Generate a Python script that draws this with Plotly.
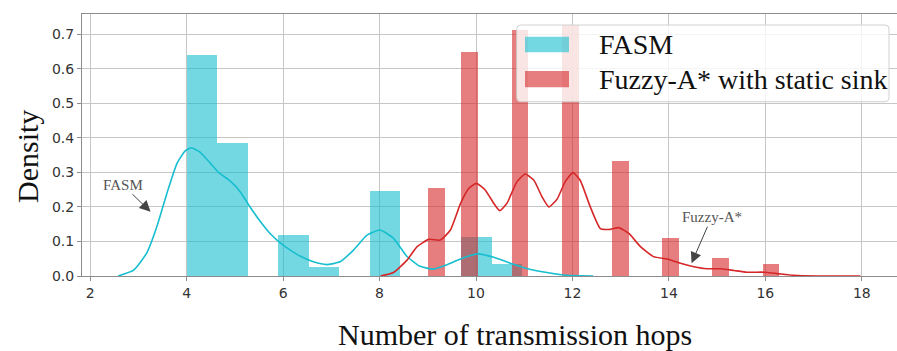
import plotly.graph_objects as go

# ---------------- data ----------------
# FASM histogram (density per bin), bins start at 4.0, width 0.633
fasm_bin_start = 4.0
fasm_bin_width = 0.633
fasm_density = [0.639, 0.386, 0.0, 0.119, 0.027, 0.0, 0.246, 0.0, 0.0, 0.112, 0.035]

# Fuzzy-A* histogram, bins start at 9.005, width 0.347
fuzzy_bin_start = 9.005
fuzzy_bin_width = 0.347
fuzzy_density = [0.254, 0.0, 0.649, 0.0, 0.0, 0.712, 0.0, 0.0, 0.726, 0.0, 0.0,
                 0.333, 0.0, 0.0, 0.111, 0.0, 0.0, 0.051, 0.0, 0.0, 0.035]

# KDE curves
fasm_kde_x = [2.58, 2.90, 3.17, 3.38, 3.59, 3.80, 3.97, 4.10, 4.27, 4.48, 4.66, 4.90,
              5.11, 5.28, 5.52, 5.73, 5.94, 6.15, 6.36, 6.63, 6.90, 7.18, 7.46, 7.74,
              8.01, 8.29, 8.56, 8.84, 9.12, 9.39, 9.73, 10.04, 10.37, 10.71, 11.05,
              11.47, 11.88, 12.43]
fasm_kde_y = [0.0, 0.017, 0.066, 0.142, 0.239, 0.326, 0.362, 0.371, 0.359, 0.328, 0.300,
              0.275, 0.244, 0.207, 0.159, 0.123, 0.096, 0.075, 0.057, 0.041, 0.033, 0.041,
              0.075, 0.118, 0.133, 0.109, 0.058, 0.028, 0.020, 0.032, 0.052, 0.064, 0.054,
              0.037, 0.022, 0.010, 0.002, 0.0]

fuzzy_kde_x = [8.02, 8.29, 8.57, 8.78, 9.02, 9.26, 9.47, 9.68, 9.85, 10.01, 10.19, 10.37,
               10.49, 10.64, 10.85, 11.02, 11.20, 11.37, 11.51, 11.68, 11.85, 12.01, 12.16,
               12.37, 12.58, 12.79, 12.96, 13.17, 13.41, 13.68, 14.00, 14.24, 14.52, 14.79,
               15.07, 15.35, 15.62, 15.97, 16.25, 16.59, 17.08, 17.97]
fuzzy_kde_y = [0.0, 0.010, 0.046, 0.085, 0.106, 0.104, 0.133, 0.210, 0.253, 0.268, 0.249,
               0.210, 0.189, 0.210, 0.273, 0.295, 0.277, 0.229, 0.200, 0.222, 0.273, 0.299,
               0.277, 0.200, 0.137, 0.135, 0.140, 0.123, 0.085, 0.056, 0.048, 0.037, 0.027,
               0.021, 0.021, 0.016, 0.011, 0.011, 0.007, 0.002, 0.0, 0.0]

x_ticks = [2, 4, 6, 8, 10, 12, 14, 16, 18]
y_ticks = [0.0, 0.1, 0.2, 0.3, 0.4, 0.5, 0.6, 0.7]

series_names = ["FASM", "Fuzzy-A* with static sink"]
x_title = "Number of transmission hops"
y_title = "Density"

CYAN = "#17becf"
RED = "#d62728"

# ---------------- figure ----------------
W, H = 897, 351
ML, MR, MT, MB = 82, 0, 14, 75
PW, PH = W - ML - MR, H - MT - MB


def px(xpix):
    return (xpix - ML) / PW


def py(ypix):
    return (MT + PH - ypix) / PH


fasm_centers = [fasm_bin_start + (i + 0.5) * fasm_bin_width for i in range(len(fasm_density))]
fuzzy_centers = [fuzzy_bin_start + (i + 0.5) * fuzzy_bin_width for i in range(len(fuzzy_density))]

fig = go.Figure()
fig.add_trace(go.Bar(x=fasm_centers, y=fasm_density, width=fasm_bin_width,
                     marker=dict(color=CYAN, opacity=0.6, line=dict(width=0)),
                     name=series_names[0], showlegend=False))
fig.add_trace(go.Bar(x=fuzzy_centers, y=fuzzy_density, width=fuzzy_bin_width,
                     marker=dict(color=RED, opacity=0.6, line=dict(width=0)),
                     name=series_names[1], showlegend=False))
fig.add_trace(go.Scatter(x=fasm_kde_x, y=fasm_kde_y, mode="lines",
                         line=dict(color=CYAN, width=1.6, shape="spline", smoothing=0.5),
                         showlegend=False, hoverinfo="skip"))
fig.add_trace(go.Scatter(x=fuzzy_kde_x, y=fuzzy_kde_y, mode="lines",
                         line=dict(color=RED, width=1.6, shape="spline", smoothing=0.5),
                         showlegend=False, hoverinfo="skip"))

axis_common = dict(
    showgrid=True, gridcolor="#c6c6c6", gridwidth=1,
    zeroline=False, showline=True, linecolor="#8c8c8c", linewidth=1,
    ticks="outside", ticklen=4, tickcolor="#8c8c8c",
    tickfont=dict(family="DejaVu Sans", size=14, color="#333333"),
)

fig.update_layout(
    width=W, height=H,
    margin=dict(l=ML, r=MR, t=MT, b=MB, autoexpand=False),
    paper_bgcolor="white", plot_bgcolor="white",
    barmode="overlay", bargap=0,
    showlegend=False,
    xaxis=dict(range=[1.83, 18.73], tickvals=x_ticks, mirror=True, **axis_common),
    yaxis=dict(range=[0, 0.758], tickvals=y_ticks, tickformat=".1f", mirror=False, **axis_common),
)

# ----- custom legend (wide patches like matplotlib) -----
lx0, lx1, ly0, ly1 = 516.7, 889.0, 25.0, 101.7
r = 4.0
path = (
    f"M {px(lx0 + r)},{py(ly0)} L {px(lx1 - r)},{py(ly0)} "
    f"Q {px(lx1)},{py(ly0)} {px(lx1)},{py(ly0 + r)} "
    f"L {px(lx1)},{py(ly1 - r)} Q {px(lx1)},{py(ly1)} {px(lx1 - r)},{py(ly1)} "
    f"L {px(lx0 + r)},{py(ly1)} Q {px(lx0)},{py(ly1)} {px(lx0)},{py(ly1 - r)} "
    f"L {px(lx0)},{py(ly0 + r)} Q {px(lx0)},{py(ly0)} {px(lx0 + r)},{py(ly0)} Z"
)
fig.add_shape(type="path", xref="paper", yref="paper", path=path,
              fillcolor="rgba(255,255,255,0.8)", line=dict(color="rgba(204,204,204,0.9)", width=1))

for (y0, y1), col in zip([(36.7, 52.3), (71.0, 87.3)], [CYAN, RED]):
    fig.add_shape(type="rect", xref="paper", yref="paper",
                  x0=px(525), x1=px(569), y0=py(y1), y1=py(y0),
                  fillcolor=col, opacity=0.6, line=dict(width=0))

for name, yc in zip(series_names, [44.5, 79.5]):
    fig.add_annotation(xref="paper", yref="paper", x=px(597), y=py(yc),
                       xanchor="left", yanchor="middle", showarrow=False, text=name,
                       font=dict(family="Liberation Serif", size=28, color="#111111"))

# ----- axis titles -----
fig.add_annotation(xref="paper", yref="paper", x=px(515), y=py(334),
                   xanchor="center", yanchor="middle", showarrow=False, text=x_title,
                   font=dict(family="Liberation Serif", size=30, color="#111111"))
fig.add_annotation(xref="paper", yref="paper", x=px(27.5), y=py(156.5),
                   xanchor="center", yanchor="middle", showarrow=False, text=y_title,
                   textangle=-90,
                   font=dict(family="Liberation Serif", size=30, color="#111111"))

# ----- arrow annotations -----
fig.add_annotation(x=3.252, y=0.186, xref="x", yref="y", ax=-28, ay=-27,
                   text="FASM", showarrow=True, arrowhead=2, arrowsize=2.2, arrowwidth=1,
                   arrowcolor="#444444",
                   font=dict(family="Liberation Serif", size=15, color="#555555"))
fig.add_annotation(x=14.47, y=0.037, xref="x", yref="y", ax=20, ay=-46,
                   text="Fuzzy-A*", showarrow=True, arrowhead=2, arrowsize=2.2, arrowwidth=1,
                   arrowcolor="#444444",
                   font=dict(family="Liberation Serif", size=15, color="#555555"))

fig.write_html(
    "out.html",
    config={"displayModeBar": False},
    post_script="document.body.style.margin='0';document.body.style.padding='0';"
                "document.body.style.overflow='hidden';",
)
